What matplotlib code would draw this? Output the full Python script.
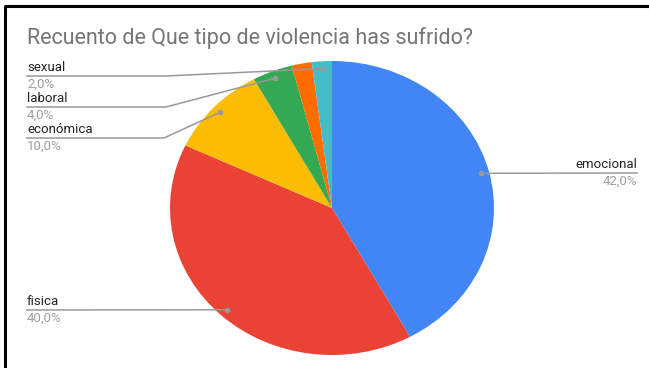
import numpy as np
import matplotlib
matplotlib.use("Agg")
import matplotlib.pyplot as plt

# Recuento por tipo de violencia (porcentajes)
categorias = ["emocional", "fisica", "económica", "laboral", "otra", "sexual"]
valores = [42.0, 40.0, 10.0, 4.0, 2.0, 2.0]
colores = ["#4285F4", "#EA4335", "#FBBC04", "#34A853", "#FF6D01", "#46BDC6"]
titulo = "Recuento de Que tipo de violencia has sufrido?"

# etiquetas visibles: (categoria, x texto, y de la linea, alineacion, codo de la linea)
etiquetas = [
    ("sexual", 27, 76, "left", 166),
    ("laboral", 27, 107, "left", 166),
    ("económica", 27, 138, "left", 164),
    ("emocional", 637, 173, "right", None),
    ("fisica", 27, 310, "left", None),
]

W, H = 649, 368
plt.rcParams["font.family"] = ["Roboto", "DejaVu Sans"]
fig = plt.figure(figsize=(W / 100, H / 100), dpi=100)

# pie ocupa un rectangulo en pixeles (forma eliptica)
px0, py0, pw, ph = 170, 61, 324, 294
ax = fig.add_axes([px0 / W, 1 - (py0 + ph) / H, pw / W, ph / H])
wedges, _ = ax.pie(valores, colors=colores, startangle=90, counterclock=False,
                   radius=1, wedgeprops=dict(linewidth=0))
ax.set_aspect("auto")
ax.set_xlim(-1, 1)
ax.set_ylim(-1, 1)
ax.axis("off")

# capa superior en coordenadas de pixel
ov = fig.add_axes([0, 0, 1, 1], zorder=5)
ov.set_xlim(0, W)
ov.set_ylim(H, 0)
ov.axis("off")
ov.patch.set_alpha(0)

# marco de la captura
ov.plot([4, W], [6, 6], color="black", lw=2.2, solid_capstyle="butt")
ov.plot([5, 5], [6, H], color="black", lw=2.2, solid_capstyle="butt")

ov.text(27, 38, titulo, color="#757575", fontsize=15.5, va="center", ha="left")

fig.canvas.draw()
total = sum(valores)
cum = np.cumsum([0] + valores)
for nombre, tx, ly, ha, codo in etiquetas:
    i = categorias.index(nombre)
    mid = (cum[i] + cum[i + 1]) / 2 / total * 2 * np.pi
    # punto dentro de la porcion, sobre el angulo medio
    dx, dy = 0.95 * np.sin(mid), 0.95 * np.cos(mid)
    xd, yd = ax.transData.transform((dx, dy))
    yd = H - yd
    if ha == "left":
        if codo is None:
            xs, ys = [tx, xd], [ly, yd]
        else:
            xs, ys = [tx, codo, xd], [ly, ly, yd]
    else:
        xs, ys = [xd, tx], [yd, ly]
    ov.plot(xs, ys, color="#999999", lw=1.1)
    ov.plot([xd], [yd], "o", color="#999999", ms=4, mec="none")
    ov.text(tx, ly - 2, nombre, color="#222222", fontsize=9.5, ha=ha, va="bottom")
    ov.text(tx, ly + 1.5, f"{valores[i]:.1f}%".replace(".", ","), color="#a0a0a0",
            fontsize=9.5, ha=ha, va="top")

fig.savefig("out.png", dpi=100)
